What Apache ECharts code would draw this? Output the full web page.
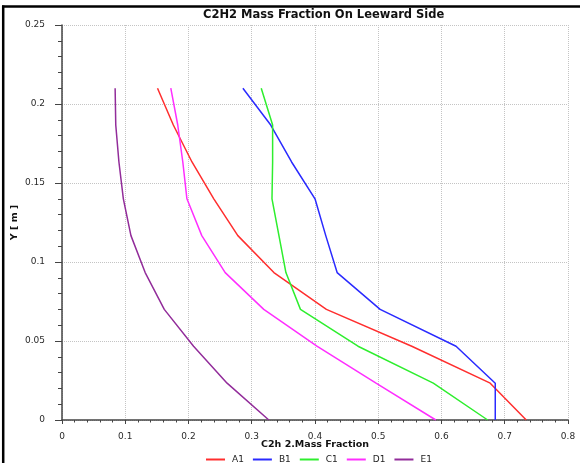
<!DOCTYPE html>
<html>
<head>
<meta charset="utf-8">
<script src="https://cdn.jsdelivr.net/npm/echarts@6/dist/echarts.min.js"></script>
<style>
html,body{margin:0;padding:0;background:#fff;}
#c{width:580px;height:463px;}
</style>
</head>
<body>
<div id="c"></div>
<script>
var yLevels = [0, 0.0233, 0.0467, 0.07, 0.0933, 0.1167, 0.14, 0.1633, 0.1867, 0.21];
var seriesNames = ['A1', 'B1', 'C1', 'D1', 'E1'];
var A1 = [0.734, 0.677, 0.553, 0.418, 0.335, 0.278, 0.240, 0.2055, 0.176, 0.151];
var B1 = [0.685, 0.685, 0.623, 0.503, 0.435, 0.417, 0.400, 0.363, 0.330, 0.286];
var C1 = [0.673, 0.587, 0.468, 0.377, 0.354, 0.343, 0.332, 0.333, 0.333, 0.315];
var D1 = [0.591, 0.4965, 0.403, 0.319, 0.258, 0.221, 0.1975, 0.191, 0.183, 0.172];
var E1 = [0.327, 0.261, 0.208, 0.1617, 0.1315, 0.109, 0.097, 0.090, 0.085, 0.084];
var xTicks = [0, 0.1, 0.2, 0.3, 0.4, 0.5, 0.6, 0.7, 0.8];
var yTicks = [0, 0.05, 0.1, 0.15, 0.2, 0.25];

var values = [A1, B1, C1, D1, E1];
var colors = ['#ff2e2e', '#2a2aff', '#2eee2e', '#ff2eff', '#922c9a'];

function pairs(xs) {
  return xs.map(function (v, i) { return [v, yLevels[i]]; });
}

var chart = echarts.init(document.getElementById('c'), null, {renderer: 'canvas'});
var font = 'DejaVu Sans';
chart.setOption({
  animation: false,
  backgroundColor: '#fff',
  color: colors,
  title: {
    text: 'C2H2 Mass Fraction On Leeward Side',
    left: 198, top: 4,
    textStyle: {fontFamily: font, fontSize: 11.5, fontWeight: 'bold', color: '#111'}
  },
  legend: {
    data: seriesNames,
    top: 450, left: 201,
    icon: 'rect', itemWidth: 19, itemHeight: 2, itemGap: 9,
    textStyle: {fontFamily: font, fontSize: 9, color: '#222', padding: [0, 0, 0, 2]}
  },
  grid: {left: 62, right: 12, top: 25, bottom: 43, containLabel: false, outerBoundsMode: 'none'},
  xAxis: {
    type: 'value', min: xTicks[0], max: xTicks[xTicks.length - 1], interval: 0.1,
    offset: 5,
    name: 'C2h 2.Mass Fraction', nameLocation: 'middle', nameGap: 15, nameMoveOverlap: false,
    nameTextStyle: {fontFamily: font, fontSize: 9.5, fontWeight: 'bold', color: '#111'},
    axisLine: {show: true, lineStyle: {color: '#444', width: 1.5}},
    axisTick: {show: true, length: 4, lineStyle: {color: '#444'}},
    minorTick: {show: true, splitNumber: 5, length: 2.5, lineStyle: {color: '#444'}},
    axisLabel: {fontFamily: font, fontSize: 9, color: '#2a2a2a', margin: 7},
    splitLine: {show: true, showMinLine: true, showMaxLine: true, lineStyle: {color: '#c4c4c4', type: [1, 1], width: 1}}
  },
  yAxis: {
    type: 'value', min: yTicks[0], max: yTicks[yTicks.length - 1], interval: 0.05,
    offset: 6,
    name: 'Y [ m ]', nameLocation: 'middle', nameGap: 36, nameRotate: 90, nameMoveOverlap: false,
    nameTextStyle: {fontFamily: font, fontSize: 9.5, fontWeight: 'bold', color: '#111'},
    axisLine: {show: true, lineStyle: {color: '#444', width: 1.5}},
    axisTick: {show: true, length: 7, lineStyle: {color: '#444'}},
    minorTick: {show: true, splitNumber: 5, length: 4, lineStyle: {color: '#444'}},
    axisLabel: {fontFamily: font, fontSize: 9, color: '#2a2a2a', margin: 11},
    splitLine: {show: true, showMinLine: true, showMaxLine: true, lineStyle: {color: '#c4c4c4', type: [1, 1], width: 1}}
  },
  graphic: [
    {type: 'line', shape: {x1: 2, y1: 6.5, x2: 580, y2: 6.5}, style: {stroke: '#000', lineWidth: 2.5}},
    {type: 'line', shape: {x1: 3.2, y1: 5.5, x2: 3.2, y2: 463}, style: {stroke: '#000', lineWidth: 2.5}}
  ],
  series: values.map(function (v, i) {
    return {
      name: seriesNames[i], type: 'line', data: pairs(v),
      symbol: 'none', lineStyle: {width: 1.5, color: colors[i]},
      itemStyle: {color: colors[i]}
    };
  })
});
</script>
</body>
</html>
